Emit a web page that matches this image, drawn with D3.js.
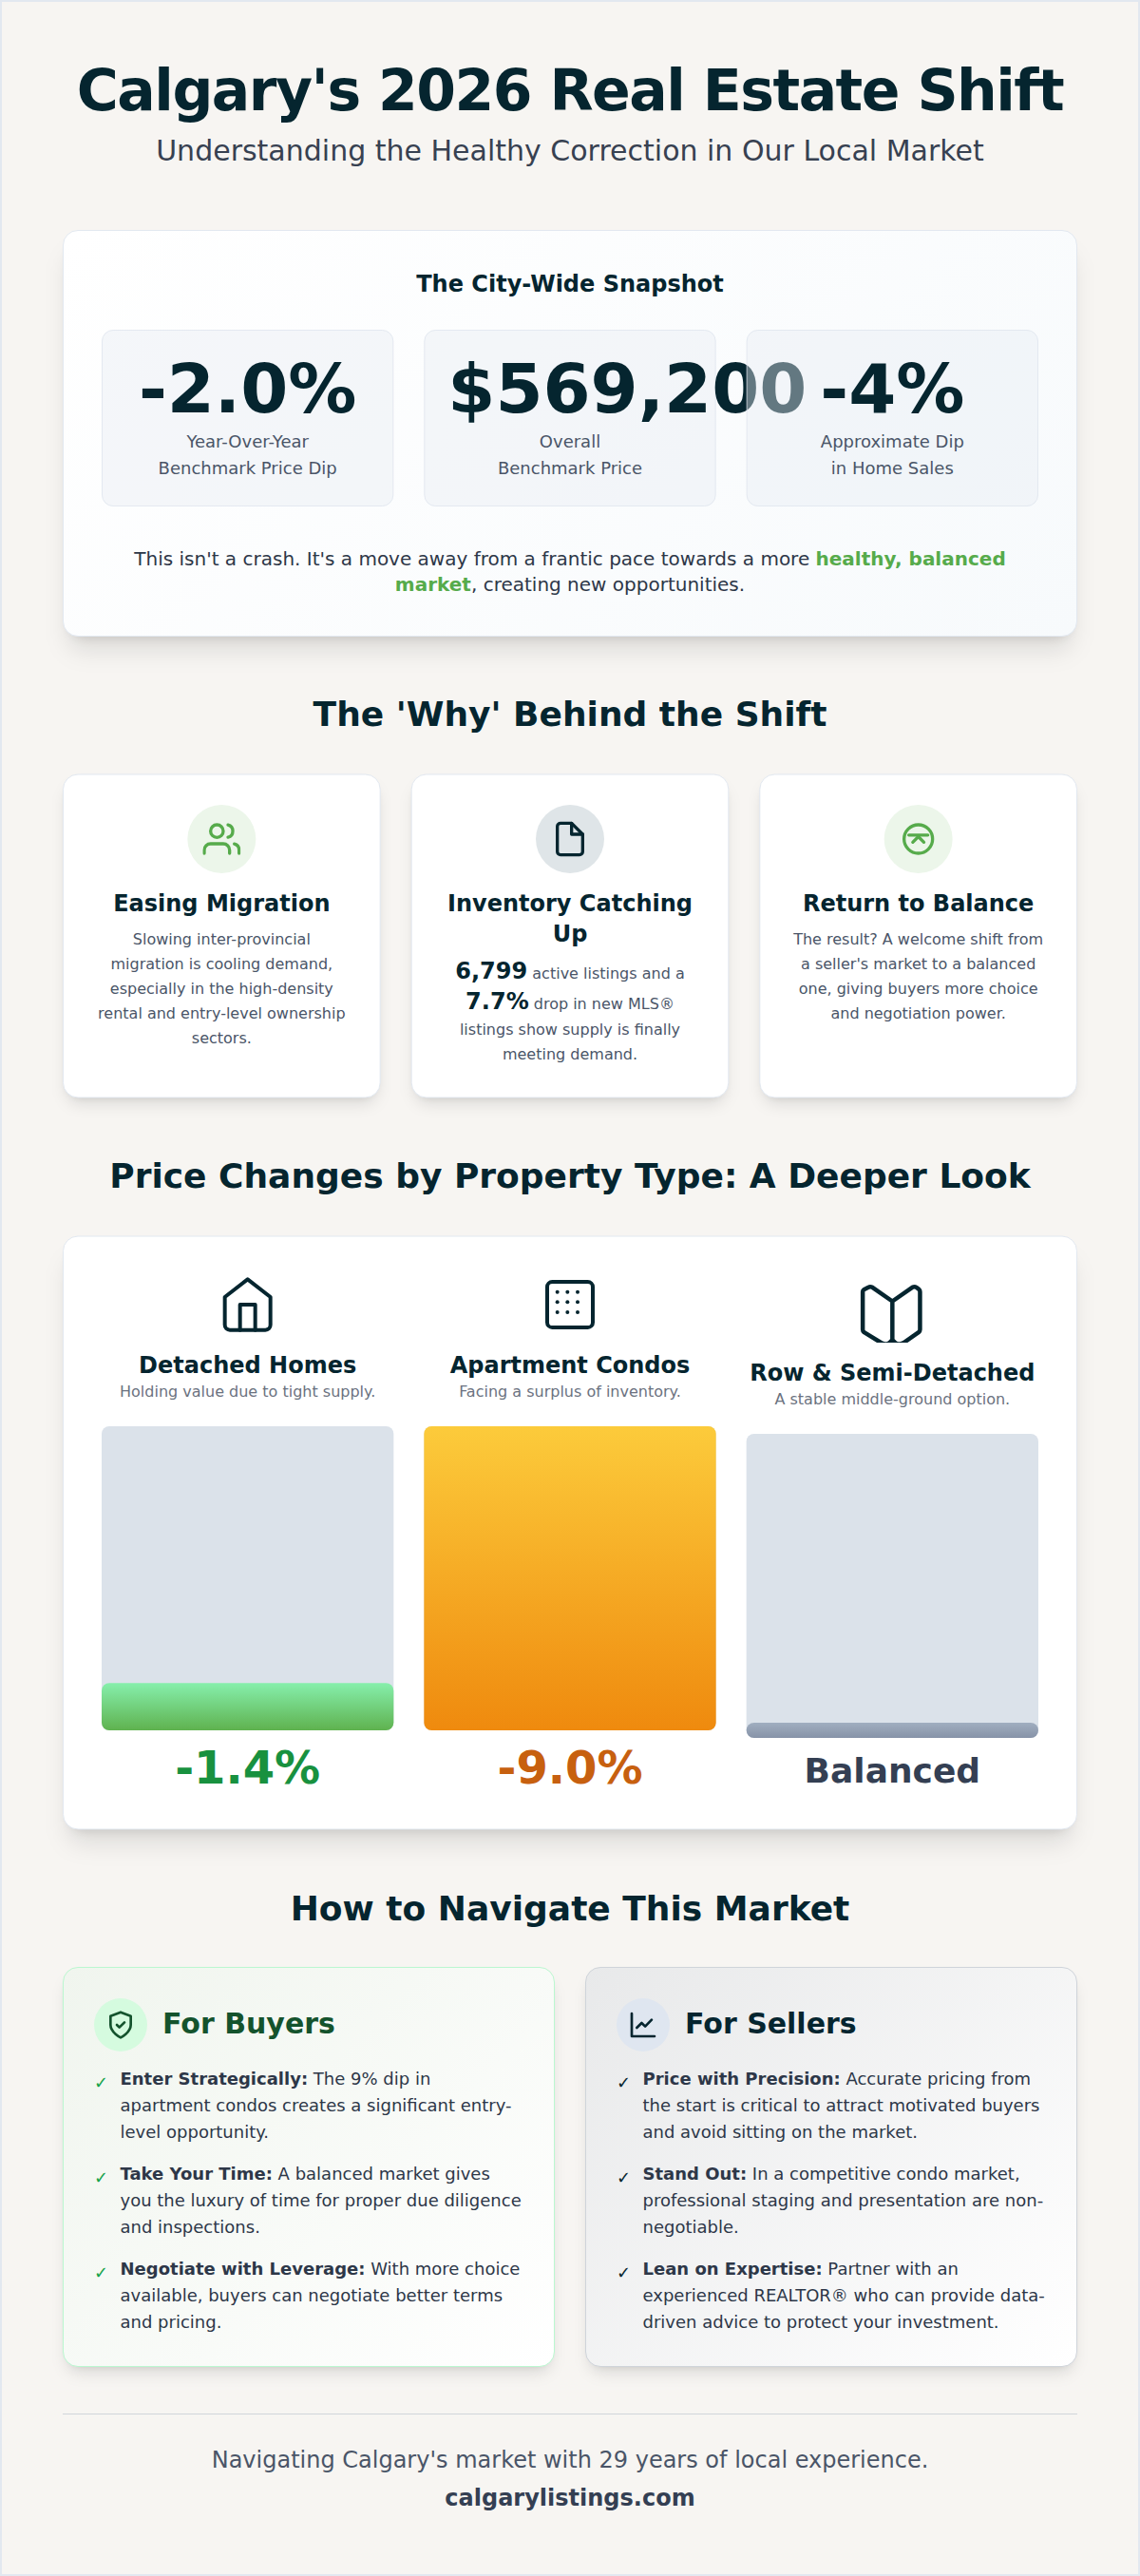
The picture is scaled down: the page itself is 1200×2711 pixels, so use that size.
<!DOCTYPE html>
<html>
<head>
<meta charset="utf-8">
<title>Calgary's 2026 Real Estate Shift</title>
<script src="https://cdn.jsdelivr.net/npm/d3@7/dist/d3.min.js"></script>
<style>
  html, body { margin: 0; padding: 0; background: #f7f5f2; }
  svg { display: block; }
  text { font-family: "DejaVu Sans", sans-serif; }
</style>
</head>
<body>
<div id="chart"></div>
<script>
const pageTitle = "Calgary's 2026 Real Estate Shift";
const pageSubtitle = "Understanding the Healthy Correction in Our Local Market";

const snapshotValues = ["-2.0%", "$569,200", "-4%"];
const snapshotLabels = [
    ["Year-Over-Year", "Benchmark Price Dip"],
    ["Overall", "Benchmark Price"],
    ["Approximate Dip", "in Home Sales"]
];

const whyTitles = [["Easing Migration"], ["Inventory Catching", "Up"], ["Return to Balance"]];
const whyText = [
    ["Slowing inter-provincial", "migration is cooling demand,", "especially in the high-density", "rental and entry-level ownership", "sectors."],
    [],
    ["The result? A welcome shift from", "a seller's market to a balanced", "one, giving buyers more choice", "and negotiation power."]
];

const propertyTypes = ["Detached Homes", "Apartment Condos", "Row & Semi-Detached"];
const propertyNotes = ["Holding value due to tight supply.", "Facing a surplus of inventory.", "A stable middle-ground option."];
const priceDrop = [1.4, 9.0, 0.45];
const priceLabels = ["-1.4%", "-9.0%", "Balanced"];

const buyerTips = [
    ["Enter Strategically:", " The 9% dip in", "apartment condos creates a significant entry-", "level opportunity."],
    ["Take Your Time:", " A balanced market gives", "you the luxury of time for proper due diligence", "and inspections."],
    ["Negotiate with Leverage:", " With more choice", "available, buyers can negotiate better terms", "and pricing."]
];
const sellerTips = [
    ["Price with Precision:", " Accurate pricing from", "the start is critical to attract motivated buyers", "and avoid sitting on the market."],
    ["Stand Out:", " In a competitive condo market,", "professional staging and presentation are non-", "negotiable."],
    ["Lean on Expertise:", " Partner with an", "experienced REALTOR® who can provide data-", "driven advice to protect your investment."]
];

const W = 1200, H = 2711;
const DARK = "#05252f", BODY = "#2d3748", MUTED = "#4a5568", GREEN = "#56ab4b";

const svg = d3.select("#chart").append("svg").attr("width", W).attr("height", H);
const defs = svg.append("defs");

let gradId = 0;
// css style 135deg gradient, in page coordinates
function diagGradient(x, y, w, h, from, to) {
    const id = "grad" + (gradId++), k = (w + h) / 4, cx = x + w / 2, cy = y + h / 2;
    const g = defs.append("linearGradient").attr("id", id).attr("gradientUnits", "userSpaceOnUse")
        .attr("x1", cx - k).attr("y1", cy - k).attr("x2", cx + k).attr("y2", cy + k);
    g.append("stop").attr("offset", 0).attr("stop-color", from);
    g.append("stop").attr("offset", 1).attr("stop-color", to);
    return "url(#" + id + ")";
}
function vertGradient(from, to) {
    const id = "grad" + (gradId++);
    const g = defs.append("linearGradient").attr("id", id).attr("x1", 0).attr("y1", 0).attr("x2", 0).attr("y2", 1);
    g.append("stop").attr("offset", 0).attr("stop-color", from);
    g.append("stop").attr("offset", 1).attr("stop-color", to);
    return "url(#" + id + ")";
}

[[7.5, "blur15"], [12.5, "blur25"], [5, "blur10"], [3, "blur6"]].forEach(([sd, id]) => {
    defs.append("filter").attr("id", id).attr("x", "-20%").attr("y", "-20%").attr("width", "140%").attr("height", "140%")
        .append("feGaussianBlur").attr("stdDeviation", sd);
});

function shadow(x, y, w, h, r, dy, spread, blurId, alpha) {
    svg.append("rect").attr("x", x - spread).attr("y", y + dy - spread)
        .attr("width", w + 2 * spread).attr("height", h + 2 * spread).attr("rx", r)
        .attr("fill", "#000").attr("fill-opacity", alpha).attr("filter", "url(#" + blurId + ")");
}
function shadowXl(x, y, w, h) {
    shadow(x, y, w, h, 16, 20, -5, "blur25", 0.1);
    shadow(x, y, w, h, 16, 8, -6, "blur10", 0.1);
}
function shadowLg(x, y, w, h) {
    shadow(x, y, w, h, 16, 10, -3, "blur15", 0.1);
    shadow(x, y, w, h, 16, 4, -4, "blur6", 0.1);
}
function box(x, y, w, h, r, fill, stroke) {
    return svg.append("rect").attr("x", x + 0.5).attr("y", y + 0.5).attr("width", w - 1).attr("height", h - 1)
        .attr("rx", r - 0.5).attr("fill", fill).attr("stroke", stroke).attr("stroke-width", 1);
}
function label(x, y, str, size, color, weight, anchor) {
    return svg.append("text").attr("x", x).attr("y", y).attr("font-size", size).attr("fill", color)
        .attr("font-weight", weight || "normal").attr("text-anchor", anchor || "middle").text(str);
}
// one line of mixed runs: [text, size, color, weight]
function runs(x, y, parts, anchor) {
    const t = svg.append("text").attr("x", x).attr("y", y).attr("text-anchor", anchor || "middle")
        .attr("xml:space", "preserve").style("white-space", "pre");
    parts.forEach(p => {
        t.append("tspan").attr("font-size", p[1]).attr("fill", p[2]).attr("font-weight", p[3] || "normal").text(p[0]);
    });
    return t;
}
function icon(cx, top, size, color, width, draw) {
    const s = size / 24, id = "clip" + (gradId++);
    defs.append("clipPath").attr("id", id).append("rect").attr("width", 24).attr("height", 24);
    const g = svg.append("g").attr("transform", `translate(${cx - size / 2},${top}) scale(${s})`)
        .attr("clip-path", "url(#" + id + ")")
        .attr("fill", "none").attr("stroke", color).attr("stroke-width", width)
        .attr("stroke-linecap", "round").attr("stroke-linejoin", "round");
    draw(g);
}
const pathOf = (g, d) => g.append("path").attr("d", d);

// page
svg.append("rect").attr("x", 1).attr("y", 1).attr("width", W - 2).attr("height", H - 2)
    .attr("fill", "#f7f5f2").attr("stroke", "#e2e8f0").attr("stroke-width", 2);

label(600, 116, pageTitle, 60, DARK, "bold").attr("letter-spacing", -1.5);
label(600, 169, pageSubtitle, 30, "#374151");

// snapshot card
shadowXl(66, 242, 1068, 428);
box(66, 242, 1068, 428, 16, diagGradient(66, 242, 1068, 428, "#ffffff", "#f7fafc"), "#e2e8f0");
label(600, 307, "The City-Wide Snapshot", 24, DARK, "bold");

const tileX = d3.scaleBand().domain(d3.range(3)).range([107, 1093]).paddingInner(32 / 339.33);
snapshotValues.forEach((v, i) => {
    const x = tileX(i), w = tileX.bandwidth(), cx = x + w / 2;
    box(x, 347, w, 186, 12, "#e7ecf3", "#dfe5ee").attr("fill-opacity", 0.42).attr("stroke-opacity", 0.8);
    if (i === 1) label(x + 25, 434, v, 72, DARK, "bold", "start");
    else label(cx, 434, v, 72, DARK, "bold");
    snapshotLabels[i].forEach((t, j) => label(cx, 471 + j * 28, t, 18, MUTED));
});
runs(600, 595, [["This isn't a crash. It's a move away from a frantic pace towards a more ", 20, BODY], ["healthy, balanced", 20, GREEN, "bold"]]);
runs(600, 622, [["market", 20, GREEN, "bold"], [", creating new opportunities.", 20, BODY]]);

// why section
label(600, 764, "The 'Why' Behind the Shift", 36, DARK, "bold");
const whyX = d3.scaleBand().domain(d3.range(3)).range([66, 1134]).paddingInner(32 / 366.67);
const whyIconColor = [GREEN, DARK, GREEN];
const whyCircle = ["#ecf6ea", "#dfe5e8", "#ecf6ea"];
const whyIcons = [
    g => {
        pathOf(g, "M17 21v-2a4 4 0 0 0-4-4H5a4 4 0 0 0-4 4v2");
        g.append("circle").attr("cx", 9).attr("cy", 7).attr("r", 4);
        pathOf(g, "M23 21v-2a4 4 0 0 0-3-3.87");
        pathOf(g, "M16 3.13a4 4 0 0 1 0 7.75");
    },
    g => {
        pathOf(g, "M13 2H6a2 2 0 0 0-2 2v16a2 2 0 0 0 2 2h12a2 2 0 0 0 2-2V9z");
        pathOf(g, "M13 2v7h7");
    },
    g => {
        g.append("circle").attr("cx", 12).attr("cy", 12).attr("r", 9);
        pathOf(g, "M6 9.5h12");
        pathOf(g, "M8.5 14l3.5-3.5 3.5 3.5");
    }
];
whyTitles.forEach((lines, i) => {
    const x = whyX(i), w = whyX.bandwidth(), cx = x + w / 2;
    shadowLg(x, 814.5, w, 341);
    box(x, 814.5, w, 341, 16, "#ffffff", "#e2e8f0");
    svg.append("circle").attr("cx", cx).attr("cy", 883).attr("r", 36).attr("fill", whyCircle[i]);
    icon(cx, 863, 40, whyIconColor[i], 2, whyIcons[i]);
    lines.forEach((t, j) => label(cx, 959 + j * 32, t, 24, DARK, "bold"));
    whyText[i].forEach((t, j) => label(cx, 993.5 + j * 26, t, 16, MUTED));
});
const midCx = whyX(1) + whyX.bandwidth() / 2;
runs(midCx, 1030, [["6,799", 24, DARK, "bold"], [" active listings and a", 16, MUTED]]);
runs(midCx, 1062, [["7.7%", 24, DARK, "bold"], [" drop in new MLS®", 16, MUTED]]);
label(midCx, 1089, "listings show supply is finally", 16, MUTED);
label(midCx, 1115, "meeting demand.", 16, MUTED);

// property type bars
label(600, 1250, "Price Changes by Property Type: A Deeper Look", 36, DARK, "bold");
shadowXl(66, 1300.5, 1068, 625);
box(66, 1300.5, 1068, 625, 16, "#ffffff", "#e2e8f0");

const barX = d3.scaleBand().domain(propertyTypes).range([107, 1093]).paddingInner(32 / 339.33);
const barH = d3.scaleLinear().domain([0, 9]).range([0, 320]);
const trackTop = [1501, 1501, 1509];
const fills = [vertGradient("#86efac", "#5fb24f"), vertGradient("#fccb3b", "#ef8a0e"), vertGradient("#a0aec0", "#8793a8")];
const valueColor = ["#18913f", "#c7600f", "#343f53"];
const valueSize = [48, 48, 36];
const valueBase = [1877, 1877, 1876];
const propIcons = [
    g => {
        pathOf(g, "M3 9l9-7 9 7v11a2 2 0 0 1-2 2H5a2 2 0 0 1-2-2z");
        pathOf(g, "M9 22V12h6v10");
    },
    g => {
        g.append("rect").attr("x", 3).attr("y", 3).attr("width", 18).attr("height", 18).attr("rx", 2);
        [7, 11, 15].forEach(a => [7, 11, 15].forEach(b => {
            g.append("circle").attr("cx", a).attr("cy", b).attr("r", 0.75).attr("fill", DARK).attr("stroke", "none");
        }));
    },
    g => {
        pathOf(g, "M12 9.5L5 4.6Q4.2 4.2 3.6 4.6L2 5.4Q1.6 5.7 1.6 6.2V19.4Q1.6 20 2.1 20.4L8 24Q10 25 11 24L12 23L13 24Q14 25 16 24L21.2 20.4Q21.7 20 21.7 19.4V6.2Q21.7 5.6 21.2 5.2L20.4 4.6Q19.8 4.2 19 4.6L12 9.5V23");
    }
];
propertyTypes.forEach((name, i) => {
    const x = barX(name), w = barX.bandwidth(), cx = x + w / 2, off = trackTop[i] - 1501;
    icon(cx, 1341, i === 2 ? 72 : 64, DARK, 1.5, propIcons[i]);
    label(cx, 1445 + off, name, 24, DARK, "bold");
    label(cx, 1470 + off, propertyNotes[i], 16, "#6b7280");
    svg.append("rect").attr("x", x).attr("y", trackTop[i]).attr("width", w).attr("height", barH(9)).attr("rx", 8).attr("fill", "#dbe2ea");
    const h = barH(priceDrop[i]);
    svg.append("rect").attr("x", x).attr("y", trackTop[i] + barH(9) - h).attr("width", w).attr("height", h).attr("rx", 8).attr("fill", fills[i]);
    label(cx, valueBase[i], priceLabels[i], valueSize[i], valueColor[i], "bold");
});

// how to navigate
label(600, 2021, "How to Navigate This Market", 36, DARK, "bold");
function tipCard(x, title, tips, opts) {
    const w = 518;
    shadowLg(x, 2070, w, 421);
    box(x, 2070, w, 421, 16, diagGradient(x, 2070, w, 421, opts.from, "#ffffff"), opts.border);
    svg.append("circle").attr("cx", x + 61).attr("cy", 2131).attr("r", 28).attr("fill", opts.circle);
    icon(x + 61, 2115, 32, opts.color, 2, opts.icon);
    label(x + 105, 2140, title, 30, opts.color, "bold", "start");
    tips.forEach((tip, i) => {
        const y = 2194 + i * 100;
        label(x + 33, y + 4, "✓", 18, opts.check, "normal", "start");
        runs(x + 60.5, y, [[tip[0], 18, BODY, "bold"], [tip[1], 18, BODY]], "start");
        label(x + 60.5, y + 28, tip[2], 18, BODY, "normal", "start");
        label(x + 60.5, y + 56, tip[3], 18, BODY, "normal", "start");
    });
}
tipCard(66, "For Buyers", buyerTips, {
    from: "#f0f5ee", border: "#bbf7d0", circle: "#d5fbdf", color: "#14532d", check: "#16a34a",
    icon: g => {
        pathOf(g, "M12 22s8-4 8-10V5l-8-3-8 3v7c0 6 8 10 8 10z");
        pathOf(g, "M9 12l2 2 4-4");
    }
});
tipCard(616, "For Sellers", sellerTips, {
    from: "#e8e9ea", border: "#cfd4da", circle: "#dfe6f0", color: DARK, check: DARK,
    icon: g => {
        pathOf(g, "M3 3v18h18");
        pathOf(g, "M18.7 8l-5.1 5.2-2.8-2.7L7 14.3");
    }
});

// footer
svg.append("line").attr("x1", 66).attr("x2", 1134).attr("y1", 2540.5).attr("y2", 2540.5).attr("stroke", "#d1d5db");
label(600, 2597, "Navigating Calgary's market with 29 years of local experience.", 24, MUTED);
label(600, 2637, "calgarylistings.com", 24, "#343f53", "bold");
</script>
</body>
</html>
